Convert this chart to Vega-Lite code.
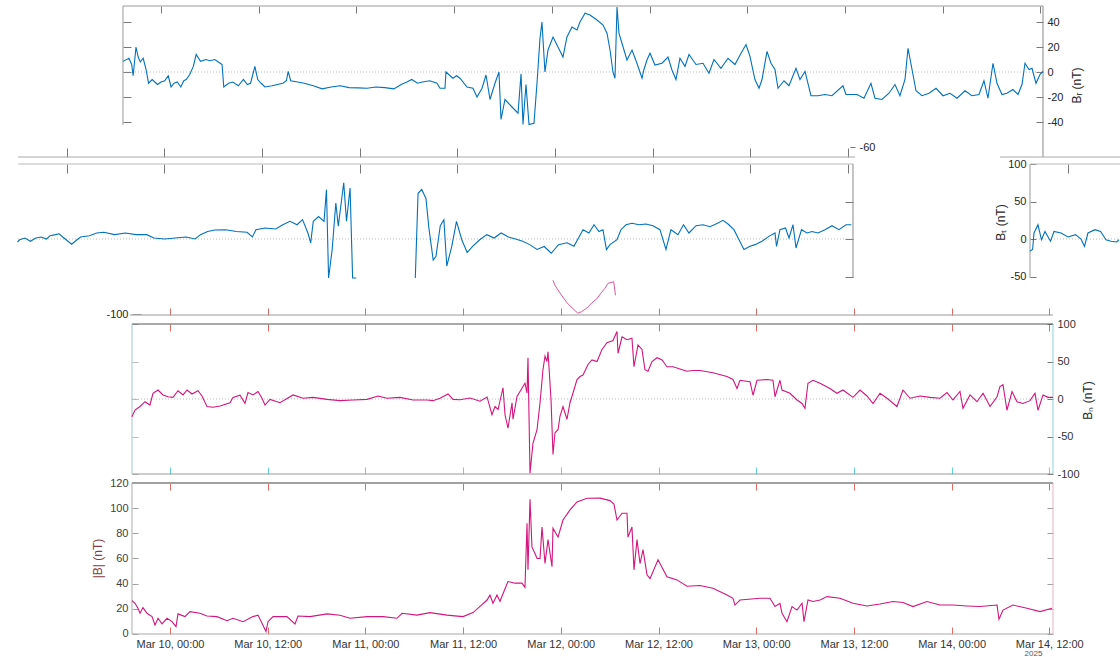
{
"$schema": "https://vega.github.io/schema/vega-lite/v6.json",
"width": 1120, "height": 657, "autosize": {"type": "none"}, "padding": 0,
"background": "white",
"config": {"view": {"stroke": null}, "axis": {"domain": false, "grid": false, "labelFont": "Liberation Sans", "labelFontSize": 11, "labelColor": "#262626", "titleFont": "Liberation Sans", "titleFontSize": 12, "titleFontWeight": "normal", "titleColor": "#262626", "tickColor": "#555555", "tickWidth": 0.8}},
"datasets": {
"br": [
{"t":-4.67,"v":8.5},{"t":-3.94,"v":11},{"t":-3.6,"v":6},{"t":-3.42,"v":-3},{"t":-3.07,"v":20},{"t":-2.8,"v":12},{"t":-2.54,"v":8},{"t":-2.19,"v":11},{"t":-1.83,"v":2},{"t":-1.53,"v":-9},{"t":-1.08,"v":-6},{"t":-0.43,"v":-10},{"t":0,"v":-8},{"t":0.45,"v":-7},{"t":0.89,"v":-3},{"t":1.24,"v":-12},{"t":1.6,"v":-9},{"t":1.99,"v":-8},{"t":2.43,"v":-12},{"t":2.8,"v":-7},{"t":3.09,"v":-6},{"t":3.53,"v":-2},{"t":3.97,"v":4.5},{"t":4.32,"v":14},{"t":4.85,"v":8.5},{"t":5.51,"v":10},{"t":6.0,"v":9},{"t":6.61,"v":10},{"t":7.27,"v":7},{"t":7.5,"v":6},{"t":7.71,"v":-12},{"t":8.3,"v":-9},{"t":8.81,"v":-8},{"t":9.5,"v":-11},{"t":10.12,"v":-6},{"t":10.6,"v":-10},{"t":11.0,"v":-9},{"t":11.53,"v":4.5},{"t":11.88,"v":-6},{"t":12.3,"v":-9},{"t":12.76,"v":-12},{"t":13.64,"v":-11},{"t":14.3,"v":-10},{"t":14.96,"v":-9},{"t":15.4,"v":-7},{"t":15.62,"v":0.5},{"t":15.93,"v":-7},{"t":16.8,"v":-8},{"t":17.6,"v":-9},{"t":18.7,"v":-11},{"t":19.8,"v":-13.5},{"t":20.9,"v":-12},{"t":22.0,"v":-11},{"t":23.1,"v":-12.5},{"t":24.2,"v":-12.7},{"t":25.3,"v":-13},{"t":26.4,"v":-12},{"t":27.5,"v":-12.5},{"t":28.6,"v":-13.5},{"t":29.5,"v":-10},{"t":30.2,"v":-8},{"t":30.8,"v":-6},{"t":31.5,"v":-9},{"t":32.1,"v":-8},{"t":33.0,"v":-7},{"t":33.9,"v":-9},{"t":34.27,"v":-13},{"t":34.88,"v":-13},{"t":35.0,"v":0},{"t":35.86,"v":-5},{"t":36.3,"v":-3},{"t":36.72,"v":-5},{"t":37.58,"v":-12},{"t":38.32,"v":-13},{"t":38.81,"v":-20},{"t":39.43,"v":-13},{"t":39.92,"v":-2.4},{"t":40.41,"v":-22},{"t":41.02,"v":-9},{"t":41.51,"v":0},{"t":41.76,"v":-38},{"t":42.25,"v":-22},{"t":43.11,"v":-28},{"t":43.85,"v":-33},{"t":44.22,"v":-1.5},{"t":44.46,"v":-42},{"t":44.83,"v":-10},{"t":45.2,"v":-42},{"t":45.81,"v":-41},{"t":46.18,"v":-9},{"t":46.55,"v":27},{"t":46.79,"v":40},{"t":47.16,"v":0},{"t":47.53,"v":17.6},{"t":48.15,"v":28},{"t":48.76,"v":20},{"t":49.37,"v":12},{"t":49.86,"v":28},{"t":50.48,"v":36},{"t":51.09,"v":33.6},{"t":51.46,"v":40},{"t":52.08,"v":47},{"t":52.69,"v":45.6},{"t":53.55,"v":41.6},{"t":54.29,"v":37.6},{"t":54.78,"v":31},{"t":55.15,"v":17.6},{"t":55.51,"v":0},{"t":55.76,"v":-5},{"t":56.01,"v":52},{"t":56.25,"v":31},{"t":56.62,"v":23},{"t":57.23,"v":9.6},{"t":57.85,"v":17.6},{"t":58.46,"v":7},{"t":59.08,"v":-5},{"t":59.3,"v":1.6},{"t":59.69,"v":9.6},{"t":60.06,"v":15},{"t":60.67,"v":5.6},{"t":61.53,"v":7},{"t":62.27,"v":12},{"t":62.76,"v":1.6},{"t":63.25,"v":-6},{"t":63.74,"v":11},{"t":64.36,"v":4.5},{"t":64.85,"v":14},{"t":65.71,"v":6},{"t":66.57,"v":7},{"t":67.3,"v":-1},{"t":67.92,"v":10},{"t":68.78,"v":3},{"t":69.64,"v":11},{"t":70.5,"v":6},{"t":71.24,"v":15},{"t":71.85,"v":22},{"t":72.34,"v":12.5},{"t":72.95,"v":-6},{"t":73.45,"v":-13},{"t":73.82,"v":-6},{"t":74.43,"v":16.5},{"t":74.92,"v":7},{"t":75.41,"v":2},{"t":75.78,"v":-13},{"t":76.52,"v":-7},{"t":77.13,"v":-11},{"t":77.99,"v":3},{"t":78.48,"v":-6},{"t":79.1,"v":0.5},{"t":79.83,"v":-19},{"t":80.69,"v":-19},{"t":81.55,"v":-18},{"t":82.41,"v":-19},{"t":83.76,"v":-11},{"t":84.13,"v":-18},{"t":85.48,"v":-18},{"t":86.34,"v":-21},{"t":87.2,"v":-9},{"t":87.69,"v":-21},{"t":88.55,"v":-22},{"t":89.41,"v":-17},{"t":90.15,"v":-10},{"t":90.76,"v":-19},{"t":91.38,"v":-6},{"t":91.75,"v":19},{"t":92.36,"v":-2},{"t":92.73,"v":-15},{"t":93.47,"v":-19},{"t":94.33,"v":-17},{"t":95.19,"v":-13},{"t":96.05,"v":-19},{"t":96.91,"v":-17},{"t":97.77,"v":-21},{"t":98.75,"v":-15},{"t":99.61,"v":-19},{"t":100.47,"v":-18},{"t":101.08,"v":-7},{"t":101.57,"v":-21},{"t":102.19,"v":7},{"t":102.68,"v":-9},{"t":103.29,"v":-18},{"t":103.9,"v":-17},{"t":104.64,"v":-14},{"t":105.26,"v":-18},{"t":105.75,"v":-10},{"t":106.12,"v":7},{"t":106.61,"v":2},{"t":106.98,"v":3},{"t":107.47,"v":-9},{"t":107.96,"v":-2},{"t":108.33,"v":0.5}
],
"bt": [
{"t":-4.67,"v":-16},{"t":-4.35,"v":-14},{"t":-4.18,"v":8},{"t":-3.69,"v":19},{"t":-3.26,"v":-1},{"t":-2.83,"v":10},{"t":-2.15,"v":-3},{"t":-1.72,"v":10},{"t":-0.86,"v":8},{"t":0,"v":2.7},{"t":0.92,"v":5.8},{"t":1.59,"v":0},{"t":2.02,"v":-9.8},{"t":2.45,"v":8},{"t":3.31,"v":12.4},{"t":4.0,"v":10},{"t":4.66,"v":-1},{"t":5.28,"v":-3},{"t":5.98,"v":-4},{"t":6.25,"v":-1},{"t":6.9,"v":1.3},{"t":7.57,"v":-3},{"t":8.23,"v":1.3},{"t":8.89,"v":2.7},{"t":9.54,"v":0},{"t":9.99,"v":4.4},{"t":10.65,"v":5.8},{"t":11.09,"v":7},{"t":11.53,"v":2.7},{"t":11.96,"v":-1},{"t":12.63,"v":-7},{"t":13.29,"v":-1},{"t":13.73,"v":2.7},{"t":14.82,"v":4.4},{"t":15.71,"v":8},{"t":16.58,"v":9},{"t":17.91,"v":5.8},{"t":19.22,"v":8},{"t":20.54,"v":5.8},{"t":21.86,"v":5.8},{"t":22.73,"v":1.3},{"t":24.06,"v":0},{"t":25.37,"v":1.3},{"t":26.7,"v":2.7},{"t":27.79,"v":0},{"t":28.46,"v":5.8},{"t":29.33,"v":10},{"t":30.21,"v":12},{"t":31.53,"v":12.4},{"t":32.85,"v":10},{"t":34.17,"v":9},{"t":34.83,"v":2.7},{"t":35.27,"v":12.4},{"t":36.38,"v":14.7},{"t":37.69,"v":13.3},{"t":38.57,"v":19},{"t":39.45,"v":23.6},{"t":40.32,"v":19},{"t":40.99,"v":25.8},{"t":41.65,"v":8},{"t":41.99,"v":-5.3},{"t":42.31,"v":23.6},{"t":42.96,"v":30},{"t":43.63,"v":23.6},{"t":43.93,"v":65.8},{"t":44.19,"v":-52},{"t":44.63,"v":-14},{"t":45.08,"v":48},{"t":45.38,"v":17},{"t":46.05,"v":75},{"t":46.39,"v":23.6},{"t":46.83,"v":68},{"t":47.14,"v":-52},{"t":47.58,"v":-52},{"t":54.84,"v":-52},{"t":55.18,"v":61},{"t":55.63,"v":66},{"t":56.15,"v":54},{"t":56.51,"v":14.7},{"t":57.04,"v":-28},{"t":57.38,"v":-23},{"t":57.91,"v":17.8},{"t":58.35,"v":25.6},{"t":58.71,"v":-36},{"t":59.32,"v":-9.8},{"t":59.9,"v":23.6},{"t":60.55,"v":-1},{"t":61.21,"v":-18},{"t":61.88,"v":-9.8},{"t":62.75,"v":-1},{"t":63.63,"v":5.8},{"t":64.51,"v":1.3},{"t":65.39,"v":8},{"t":66.27,"v":2.7},{"t":67.15,"v":0},{"t":68.03,"v":-3},{"t":68.9,"v":-7.5},{"t":69.79,"v":-14},{"t":70.67,"v":-10},{"t":71.54,"v":-19},{"t":72.43,"v":-7.5},{"t":73.47,"v":-5},{"t":74.33,"v":-9.8},{"t":75.44,"v":12.4},{"t":76.17,"v":8},{"t":76.79,"v":19},{"t":77.4,"v":10},{"t":77.89,"v":12.4},{"t":78.32,"v":-14},{"t":78.75,"v":-7.5},{"t":79.61,"v":-1},{"t":80.1,"v":12.4},{"t":80.72,"v":19},{"t":81.45,"v":21},{"t":82.31,"v":19},{"t":83.17,"v":20},{"t":84.03,"v":17.8},{"t":84.89,"v":12.4},{"t":85.63,"v":-14},{"t":86.24,"v":12.4},{"t":87.1,"v":5.8},{"t":87.78,"v":19},{"t":88.45,"v":8},{"t":89.32,"v":17.8},{"t":90.18,"v":19},{"t":91.04,"v":16.4},{"t":91.96,"v":21},{"t":92.63,"v":24.9},{"t":93.25,"v":20},{"t":93.98,"v":12.4},{"t":94.6,"v":-1},{"t":95.21,"v":-14},{"t":95.95,"v":-9.8},{"t":96.56,"v":-7.5},{"t":97.42,"v":-3},{"t":98.28,"v":3.5},{"t":99.02,"v":8},{"t":99.21,"v":-9.8},{"t":99.63,"v":12.4},{"t":100.31,"v":14.7},{"t":100.74,"v":1.3},{"t":101.23,"v":19},{"t":101.6,"v":-12},{"t":102.28,"v":12.4},{"t":102.95,"v":8},{"t":103.56,"v":10},{"t":104.3,"v":8},{"t":105.16,"v":12.4},{"t":106.02,"v":17.8},{"t":106.88,"v":12.4},{"t":107.74,"v":19},{"t":108.4,"v":19}
],
"btmc": [
{"t":47.04,"v":-55},{"t":47.3,"v":-62},{"t":47.9,"v":-72},{"t":48.76,"v":-85},{"t":49.4,"v":-92},{"t":50.11,"v":-99},{"t":50.54,"v":-97},{"t":51.2,"v":-92},{"t":51.83,"v":-85},{"t":52.4,"v":-80},{"t":52.94,"v":-72},{"t":53.4,"v":-66},{"t":53.8,"v":-59},{"t":54.5,"v":-57},{"t":54.72,"v":-75}
],
"bn": [
{"t":-4.67,"v":-23.7},{"t":-4.3,"v":-14.7},{"t":-3.68,"v":-10},{"t":-3.07,"v":-3.6},{"t":-2.46,"v":-8},{"t":-2.09,"v":7.6},{"t":-1.47,"v":12},{"t":-0.86,"v":5.4},{"t":-0.25,"v":3},{"t":0.37,"v":2.2},{"t":0.98,"v":11},{"t":1.6,"v":5.4},{"t":2.09,"v":12},{"t":2.7,"v":6.7},{"t":3.44,"v":11},{"t":3.93,"v":4},{"t":4.54,"v":-10},{"t":5.28,"v":-11},{"t":6.14,"v":-9.4},{"t":7.37,"v":-5},{"t":7.74,"v":2.2},{"t":8.6,"v":5},{"t":9.21,"v":-5.8},{"t":9.58,"v":8.5},{"t":10.19,"v":5.4},{"t":10.81,"v":10},{"t":11.3,"v":1},{"t":11.67,"v":-8},{"t":12.28,"v":-0.5},{"t":13.51,"v":-5},{"t":15.11,"v":5.4},{"t":16.34,"v":1},{"t":17.56,"v":2.2},{"t":19.28,"v":-0.5},{"t":20.88,"v":-2.2},{"t":22.48,"v":-1.3},{"t":24.2,"v":-0.5},{"t":25.55,"v":4},{"t":26.65,"v":1},{"t":28.25,"v":2.2},{"t":29.85,"v":-1.3},{"t":31.57,"v":-1.3},{"t":32.3,"v":-2.2},{"t":33.16,"v":1},{"t":34.15,"v":6.7},{"t":34.76,"v":-0.5},{"t":35.62,"v":-1},{"t":36.85,"v":1.3},{"t":38.08,"v":-3},{"t":38.94,"v":2.7},{"t":39.55,"v":-21},{"t":39.92,"v":-10},{"t":40.29,"v":-14},{"t":40.9,"v":15},{"t":41.15,"v":-21},{"t":41.51,"v":-39},{"t":42.01,"v":-5},{"t":42.13,"v":-27},{"t":42.62,"v":3.5},{"t":42.99,"v":10},{"t":43.6,"v":21},{"t":43.85,"v":8},{"t":43.97,"v":55},{"t":44.22,"v":-99},{"t":44.58,"v":-59},{"t":45.08,"v":-41},{"t":45.45,"v":-5},{"t":45.81,"v":39},{"t":46.06,"v":57},{"t":46.3,"v":50},{"t":46.43,"v":63},{"t":46.8,"v":-1},{"t":47.04,"v":-74},{"t":47.29,"v":-45},{"t":47.66,"v":-41},{"t":47.9,"v":-23},{"t":48.27,"v":-10},{"t":48.76,"v":-27},{"t":49.13,"v":-5},{"t":49.5,"v":8},{"t":49.99,"v":26},{"t":50.36,"v":30},{"t":50.73,"v":32},{"t":51.34,"v":46},{"t":51.83,"v":52},{"t":52.45,"v":50},{"t":53.06,"v":66},{"t":53.67,"v":75},{"t":54.41,"v":78},{"t":54.9,"v":90},{"t":55.03,"v":61},{"t":55.52,"v":83},{"t":56.13,"v":79},{"t":56.74,"v":81},{"t":56.99,"v":43},{"t":57.48,"v":72},{"t":57.97,"v":66},{"t":58.34,"v":39},{"t":58.71,"v":37},{"t":59.2,"v":50},{"t":59.82,"v":55},{"t":60.43,"v":52},{"t":61.04,"v":43},{"t":61.78,"v":43},{"t":62.64,"v":40},{"t":63.5,"v":37},{"t":64.24,"v":38},{"t":65.1,"v":38},{"t":66.69,"v":35},{"t":68.41,"v":30},{"t":69.15,"v":26},{"t":69.64,"v":14},{"t":70.01,"v":25},{"t":71.24,"v":23},{"t":71.61,"v":5},{"t":72.1,"v":25},{"t":73.33,"v":26},{"t":74.06,"v":25},{"t":74.31,"v":3},{"t":74.92,"v":25},{"t":75.17,"v":12},{"t":76.15,"v":7.6},{"t":77.01,"v":-1.3},{"t":77.63,"v":-6},{"t":77.99,"v":-12.5},{"t":78.36,"v":21},{"t":78.98,"v":25},{"t":79.84,"v":21},{"t":81.06,"v":14},{"t":81.92,"v":7.6},{"t":82.66,"v":12},{"t":83.89,"v":2.2},{"t":84.75,"v":12},{"t":85.61,"v":4},{"t":86.35,"v":-6},{"t":87.21,"v":7.6},{"t":88.07,"v":1},{"t":89.29,"v":-10},{"t":90.03,"v":12},{"t":90.89,"v":1},{"t":92.12,"v":4},{"t":93.35,"v":2.2},{"t":94.57,"v":1},{"t":95.43,"v":8.5},{"t":96.17,"v":-1.3},{"t":97.03,"v":10},{"t":97.4,"v":-12.5},{"t":98.26,"v":5.4},{"t":99.12,"v":-3.6},{"t":99.86,"v":7.6},{"t":100.72,"v":-10},{"t":101.58,"v":3},{"t":101.94,"v":16.5},{"t":102.31,"v":19},{"t":102.8,"v":-15},{"t":103.42,"v":10},{"t":104.03,"v":-3.6},{"t":104.77,"v":-6},{"t":105.63,"v":-2.2},{"t":106.24,"v":7.6},{"t":106.61,"v":-15},{"t":107.23,"v":5.4},{"t":107.84,"v":2.2},{"t":108.45,"v":2.2}
],
"bmag": [
{"t":-4.67,"v":26.5},{"t":-4.3,"v":24.4},{"t":-3.93,"v":20.4},{"t":-3.68,"v":16.5},{"t":-3.32,"v":21},{"t":-2.82,"v":16.5},{"t":-2.21,"v":13.8},{"t":-1.84,"v":7.2},{"t":-1.47,"v":12.5},{"t":-0.98,"v":8},{"t":-0.37,"v":12.5},{"t":0.25,"v":9.8},{"t":0.74,"v":5.8},{"t":0.98,"v":16},{"t":1.84,"v":13.8},{"t":2.46,"v":17.8},{"t":3.68,"v":16.5},{"t":4.54,"v":14.3},{"t":5.77,"v":13.8},{"t":7.0,"v":10.6},{"t":7.74,"v":12.5},{"t":8.97,"v":9.8},{"t":10.19,"v":13.8},{"t":10.81,"v":15},{"t":11.3,"v":8.5},{"t":11.79,"v":1.9},{"t":12.04,"v":9.8},{"t":12.65,"v":13.8},{"t":14.37,"v":13.8},{"t":15.35,"v":8},{"t":15.72,"v":14.3},{"t":17.2,"v":13.8},{"t":19.28,"v":16},{"t":20.88,"v":14.9},{"t":22.11,"v":12.5},{"t":24.2,"v":13.8},{"t":26.16,"v":13.8},{"t":27.88,"v":12.5},{"t":28.5,"v":16.5},{"t":30.34,"v":15},{"t":31.93,"v":17},{"t":34.02,"v":15},{"t":35.62,"v":14},{"t":35.99,"v":13.8},{"t":37.22,"v":17},{"t":38.08,"v":22},{"t":38.94,"v":27},{"t":39.3,"v":31},{"t":39.67,"v":24.4},{"t":40.16,"v":31},{"t":40.53,"v":26},{"t":41.15,"v":36},{"t":41.51,"v":41.7},{"t":42.37,"v":40.4},{"t":43.23,"v":40.4},{"t":43.6,"v":37},{"t":43.85,"v":88},{"t":43.97,"v":51},{"t":44.22,"v":107},{"t":44.46,"v":69},{"t":44.83,"v":64},{"t":45.08,"v":60},{"t":45.45,"v":60},{"t":45.69,"v":85},{"t":46.06,"v":56},{"t":46.43,"v":75},{"t":46.92,"v":53.5},{"t":47.04,"v":84},{"t":47.66,"v":77},{"t":48.27,"v":90.6},{"t":49.13,"v":98.6},{"t":49.99,"v":105},{"t":51.22,"v":107.9},{"t":52.81,"v":108},{"t":54.04,"v":106},{"t":54.53,"v":103.3},{"t":54.9,"v":90.6},{"t":55.52,"v":96},{"t":56.13,"v":96},{"t":56.25,"v":77},{"t":56.74,"v":85},{"t":56.99,"v":51},{"t":57.36,"v":75},{"t":57.73,"v":56},{"t":58.1,"v":67},{"t":58.59,"v":47},{"t":58.96,"v":44},{"t":59.94,"v":59},{"t":61.04,"v":45.5},{"t":62.27,"v":43},{"t":63.5,"v":38},{"t":65.1,"v":38.5},{"t":66.69,"v":36.4},{"t":68.41,"v":31},{"t":69.15,"v":28.4},{"t":69.39,"v":23},{"t":70.01,"v":27},{"t":72.47,"v":28.4},{"t":73.69,"v":28.4},{"t":74.31,"v":21.8},{"t":74.92,"v":24.4},{"t":75.17,"v":16.5},{"t":75.78,"v":9.8},{"t":76.4,"v":21.8},{"t":77.01,"v":19},{"t":77.63,"v":24.4},{"t":77.87,"v":9.8},{"t":78.36,"v":27},{"t":78.98,"v":25.8},{"t":79.84,"v":27},{"t":80.7,"v":29.7},{"t":82.29,"v":28.4},{"t":83.89,"v":24.4},{"t":85.61,"v":22.3},{"t":87.21,"v":23.9},{"t":88.8,"v":25.8},{"t":90.03,"v":25},{"t":91.26,"v":21.8},{"t":92.98,"v":25.8},{"t":94.57,"v":23},{"t":96.17,"v":23},{"t":97.89,"v":22.3},{"t":99.49,"v":21.8},{"t":101.58,"v":23},{"t":101.82,"v":11.7},{"t":102.31,"v":19},{"t":103.54,"v":23},{"t":105.26,"v":20.4},{"t":106.86,"v":17.8},{"t":108.33,"v":20.4}
]
},
"resolve": {"scale": {"x": "independent", "y": "independent"}},
"layer": [
{"data": {"values": [{}]}, "mark": {"type": "rule", "color": "#999999", "strokeWidth": 1},
 "encoding": {"x": {"datum": -4.67, "type": "quantitative", "scale": {"domain": [-19.775, 117.788], "nice": false, "zero": false}, "axis": {"orient": "top", "offset": -6, "values": [0,12,24,36,48,60,72,84,96,108], "tickSize": -7, "labels": false, "title": null}},
  "x2": {"datum": 108.33},
  "y": {"datum": 52.8, "type": "quantitative", "scale": {"domain": [-468, 57.6], "nice": false, "zero": false}, "axis": null}}},
{"data": {"values": [{}]}, "mark": {"type": "rule", "color": "#999999", "strokeWidth": 1},
 "encoding": {"x": {"datum": -4.67, "type": "quantitative", "scale": {"domain": [-19.775, 117.788], "nice": false, "zero": false}, "axis": null},
  "y": {"datum": 52.8, "type": "quantitative", "scale": {"domain": [-468, 57.6], "nice": false, "zero": false}, "axis": {"orient": "left", "offset": -123, "values": [-40,-20,0,20,40], "tickSize": -8, "labels": false, "title": null}},
  "y2": {"datum": -42.4}}},
{"data": {"values": [{}]}, "mark": {"type": "rule", "color": "#888888", "strokeWidth": 1},
 "encoding": {"x": {"datum": 108.33, "type": "quantitative", "scale": {"domain": [-19.775, 117.788], "nice": false, "zero": false}, "axis": null},
  "y": {"datum": 52.8, "type": "quantitative", "scale": {"domain": [-468, 57.6], "nice": false, "zero": false}, "axis": {"orient": "right", "offset": -77, "values": [-40,-20,0,20,40], "labelExpr": "'' + datum.value", "tickSize": -7, "labelPadding": 11, "title": "Bᵣ (nT)", "titleAngle": 270, "titleX": 33, "titleY": 85, "titleAlign": "center", "titleBaseline": "middle"}},
  "y2": {"datum": -68}}},
{"data": {"values": [{}]}, "mark": {"type": "rule", "color": "#aaaaaa", "strokeWidth": 0.8, "strokeDash": [1, 2]},
 "encoding": {"x": {"datum": -4.67, "type": "quantitative", "scale": {"domain": [-19.775, 117.788], "nice": false, "zero": false}, "axis": null},
  "x2": {"datum": 108.33},
  "y": {"datum": 0, "type": "quantitative", "scale": {"domain": [-468, 57.6], "nice": false, "zero": false}, "axis": null}}},
{"data": {"name": "br"}, "mark": {"type": "line", "color": "#0072BD", "strokeWidth": 1.1},
 "encoding": {"x": {"field": "t", "type": "quantitative", "scale": {"domain": [-19.775, 117.788], "nice": false, "zero": false}, "axis": null},
  "y": {"field": "v", "type": "quantitative", "scale": {"domain": [-468, 57.6], "nice": false, "zero": false}, "axis": null}}},

{"data": {"values": [{}]}, "mark": {"type": "rule", "color": "#aaaaaa", "strokeWidth": 1.2},
 "encoding": {"x": {"datum": 6.04, "type": "quantitative", "scale": {"domain": [3.832, 141.395], "nice": false, "zero": false}, "axis": {"orient": "top", "offset": -157, "values": [12,24,36,48,60,72,84,96,108], "tickSize": 9, "labels": false, "title": null}},
  "x2": {"datum": 108.85},
  "y": {"datum": -68, "type": "quantitative", "scale": {"domain": [-468, 57.6], "nice": false, "zero": false}, "axis": {"orient": "right", "offset": -265, "values": [-60], "labelExpr": "'' + datum.value", "tickSize": -5, "labelPadding": 9, "title": null}}}},
{"data": {"values": [{}]}, "mark": {"type": "rule", "color": "#bbbbbb", "strokeWidth": 1.2},
 "encoding": {"x": {"datum": 6.04, "type": "quantitative", "scale": {"domain": [3.832, 141.395], "nice": false, "zero": false}, "axis": {"orient": "top", "offset": -164, "values": [12,24,36,48,60,72,84,96,108], "tickSize": -9, "labels": false, "title": null}},
  "x2": {"datum": 108.6},
  "y": {"datum": 100, "type": "quantitative", "scale": {"domain": [-557.33, 318.67], "nice": false, "zero": false}, "axis": null}}},
{"data": {"values": [{}]}, "mark": {"type": "rule", "color": "#888888", "strokeWidth": 1},
 "encoding": {"x": {"datum": 108.6, "type": "quantitative", "scale": {"domain": [3.832, 141.395], "nice": false, "zero": false}, "axis": null},
  "y": {"datum": 100, "type": "quantitative", "scale": {"domain": [-557.33, 318.67], "nice": false, "zero": false}, "axis": {"orient": "right", "offset": -267, "values": [-50,0,50], "tickSize": -8, "labels": false, "title": null}},
  "y2": {"datum": -52}}},
{"data": {"values": [{}]}, "mark": {"type": "rule", "color": "#aaaaaa", "strokeWidth": 0.8, "strokeDash": [1, 2]},
 "encoding": {"x": {"datum": 6.04, "type": "quantitative", "scale": {"domain": [3.832, 141.395], "nice": false, "zero": false}, "axis": null},
  "x2": {"datum": 108.6},
  "y": {"datum": 0, "type": "quantitative", "scale": {"domain": [-557.33, 318.67], "nice": false, "zero": false}, "axis": null}}},
{"data": {"name": "bt"}, "transform": [{"filter": "datum.t >= 5.9 && datum.t <= 48"}], "mark": {"type": "line", "color": "#0072BD", "strokeWidth": 1.1},
 "encoding": {"x": {"field": "t", "type": "quantitative", "scale": {"domain": [3.832, 141.395], "nice": false, "zero": false}, "axis": null},
  "y": {"field": "v", "type": "quantitative", "scale": {"domain": [-557.33, 318.67], "nice": false, "zero": false}, "axis": null}}},
{"data": {"name": "bt"}, "transform": [{"filter": "datum.t >= 54"}], "mark": {"type": "line", "color": "#0072BD", "strokeWidth": 1.1},
 "encoding": {"x": {"field": "t", "type": "quantitative", "scale": {"domain": [3.832, 141.395], "nice": false, "zero": false}, "axis": null},
  "y": {"field": "v", "type": "quantitative", "scale": {"domain": [-557.33, 318.67], "nice": false, "zero": false}, "axis": null}}},

{"data": {"values": [{}]}, "mark": {"type": "rule", "color": "#999999", "strokeWidth": 1},
 "encoding": {"x": {"datum": -4.67, "type": "quantitative", "scale": {"domain": [-131.18, 6.384], "nice": false, "zero": false}, "axis": null},
  "y": {"datum": 100, "type": "quantitative", "scale": {"domain": [-557.33, 318.67], "nice": false, "zero": false}, "axis": {"orient": "left", "offset": -1030, "values": [-50,0,50,100], "labelExpr": "'' + datum.value", "tickSize": -6, "labelPadding": 10, "title": "Bₜ (nT)", "titleX": -30, "titleY": 222, "titleAlign": "center", "titleBaseline": "middle"}},
  "y2": {"datum": -52}}},
{"data": {"values": [{}]}, "mark": {"type": "rule", "color": "#bbbbbb", "strokeWidth": 1.2},
 "encoding": {"x": {"datum": -4.67, "type": "quantitative", "scale": {"domain": [-131.18, 6.384], "nice": false, "zero": false}, "axis": {"orient": "top", "offset": -164, "values": [0], "tickSize": -9, "labels": false, "title": null}},
  "x2": {"datum": 6.38},
  "y": {"datum": 100, "type": "quantitative", "scale": {"domain": [-557.33, 318.67], "nice": false, "zero": false}, "axis": null}}},
{"data": {"values": [{}]}, "mark": {"type": "rule", "color": "#aaaaaa", "strokeWidth": 1.2},
 "encoding": {"x": {"datum": -8.35, "type": "quantitative", "scale": {"domain": [-131.18, 6.384], "nice": false, "zero": false}, "axis": null},
  "x2": {"datum": 6.38},
  "y": {"datum": 109.33, "type": "quantitative", "scale": {"domain": [-557.33, 318.67], "nice": false, "zero": false}, "axis": null}}},
{"data": {"values": [{}]}, "mark": {"type": "rule", "color": "#aaaaaa", "strokeWidth": 0.8, "strokeDash": [1, 2]},
 "encoding": {"x": {"datum": -4.67, "type": "quantitative", "scale": {"domain": [-131.18, 6.384], "nice": false, "zero": false}, "axis": null},
  "x2": {"datum": 6.38},
  "y": {"datum": 0, "type": "quantitative", "scale": {"domain": [-557.33, 318.67], "nice": false, "zero": false}, "axis": null}}},
{"data": {"name": "bt"}, "transform": [{"filter": "datum.t <= 6.3"}], "mark": {"type": "line", "color": "#0072BD", "strokeWidth": 1.1},
 "encoding": {"x": {"field": "t", "type": "quantitative", "scale": {"domain": [-131.18, 6.384], "nice": false, "zero": false}, "axis": null},
  "y": {"field": "v", "type": "quantitative", "scale": {"domain": [-557.33, 318.67], "nice": false, "zero": false}, "axis": null}}},

{"data": {"values": [{}]}, "mark": {"type": "rule", "color": "#999999", "strokeWidth": 1},
 "encoding": {"x": {"datum": -4.91, "type": "quantitative", "scale": {"domain": [-20.88, 116.683], "nice": false, "zero": false}, "axis": {"orient": "bottom", "offset": -342, "values": [0,12,24,36,48,60,72,84,96,108], "tickSize": -7, "tickColor": "#e0443c", "labels": false, "title": null}},
  "x2": {"datum": 108.45},
  "y": {"datum": -101.33, "type": "quantitative", "scale": {"domain": [-557.33, 318.67], "nice": false, "zero": false}, "axis": {"orient": "left", "offset": -132, "values": [-100], "labelExpr": "'' + datum.value", "tickSize": -9, "labelPadding": 13, "tickColor": "#888888", "title": null}}}},
{"data": {"name": "btmc"}, "mark": {"type": "line", "color": "#e0559a", "strokeWidth": 1},
 "encoding": {"x": {"field": "t", "type": "quantitative", "scale": {"domain": [-20.88, 116.683], "nice": false, "zero": false}, "axis": null},
  "y": {"field": "v", "type": "quantitative", "scale": {"domain": [-557.33, 318.67], "nice": false, "zero": false}, "axis": null}}},

{"data": {"values": [{}]}, "mark": {"type": "rule", "color": "#555555", "strokeWidth": 1},
 "encoding": {"x": {"datum": -4.67, "type": "quantitative", "scale": {"domain": [-20.88, 116.683], "nice": false, "zero": false}, "axis": {"orient": "top", "offset": -324, "values": [0,12,24,36,48,60,72,84,96,108], "tickSize": -7, "tickColor": "#e0443c", "labels": false, "title": null}},
  "x2": {"datum": 108.45},
  "y": {"datum": 100, "type": "quantitative", "scale": {"domain": [-344, 532], "nice": false, "zero": false}, "axis": null}}},
{"data": {"values": [{}]}, "mark": {"type": "rule", "color": "#999999", "strokeWidth": 1},
 "encoding": {"x": {"datum": -4.67, "type": "quantitative", "scale": {"domain": [-20.88, 116.683], "nice": false, "zero": false}, "axis": {"orient": "bottom", "offset": -183, "values": [0,12,24,36,48,60,72,84,96,108], "tickSize": -7, "tickColor": "#3cc8d0", "labels": false, "title": null}},
  "x2": {"datum": 108.45},
  "y": {"datum": -100, "type": "quantitative", "scale": {"domain": [-344, 532], "nice": false, "zero": false}, "axis": null}}},
{"data": {"values": [{}]}, "mark": {"type": "rule", "color": "#9cc9cd", "strokeWidth": 1},
 "encoding": {"x": {"datum": -4.67, "type": "quantitative", "scale": {"domain": [-20.88, 116.683], "nice": false, "zero": false}, "axis": null},
  "y": {"datum": 100, "type": "quantitative", "scale": {"domain": [-344, 532], "nice": false, "zero": false}, "axis": {"orient": "left", "offset": -132, "values": [-100,-50,0,50,100], "tickSize": -6, "tickColor": "#aaaaaa", "labels": false, "title": null}},
  "y2": {"datum": -100}}},
{"data": {"values": [{}]}, "mark": {"type": "rule", "color": "#8fd0d6", "strokeWidth": 1},
 "encoding": {"x": {"datum": 108.45, "type": "quantitative", "scale": {"domain": [-20.88, 116.683], "nice": false, "zero": false}, "axis": null},
  "y": {"datum": 100, "type": "quantitative", "scale": {"domain": [-344, 532], "nice": false, "zero": false}, "axis": {"orient": "right", "offset": -67, "values": [-100,-50,0,50,100], "labelExpr": "'' + datum.value", "tickSize": -6, "labelPadding": 10, "labelColor": "#333333", "title": "Bₙ (nT)", "titleAngle": 270, "titleX": 34, "titleY": 400, "titleAlign": "center", "titleBaseline": "middle"}},
  "y2": {"datum": -100}}},
{"data": {"values": [{}]}, "mark": {"type": "rule", "color": "#aaaaaa", "strokeWidth": 0.8, "strokeDash": [1, 2]},
 "encoding": {"x": {"datum": -4.67, "type": "quantitative", "scale": {"domain": [-20.88, 116.683], "nice": false, "zero": false}, "axis": null},
  "x2": {"datum": 108.45},
  "y": {"datum": 0, "type": "quantitative", "scale": {"domain": [-344, 532], "nice": false, "zero": false}, "axis": null}}},
{"data": {"name": "bn"}, "mark": {"type": "line", "color": "#d4157e", "strokeWidth": 1.1},
 "encoding": {"x": {"field": "t", "type": "quantitative", "scale": {"domain": [-20.88, 116.683], "nice": false, "zero": false}, "axis": null},
  "y": {"field": "v", "type": "quantitative", "scale": {"domain": [-344, 532], "nice": false, "zero": false}, "axis": null}}},

{"data": {"values": [{}]}, "mark": {"type": "rule", "color": "#a0a0a0", "strokeWidth": 2.2},
 "encoding": {"x": {"datum": -4.67, "type": "quantitative", "scale": {"domain": [-20.88, 116.683], "nice": false, "zero": false}, "axis": {"orient": "top", "offset": -483, "values": [0,12,24,36,48,60,72,84,96,108], "tickSize": -7, "tickColor": "#e0443c", "labels": false, "title": null}},
  "x2": {"datum": 108.45},
  "y": {"datum": 120, "type": "quantitative", "scale": {"domain": [-18.28, 503.85], "nice": false, "zero": false}, "axis": null}}},
{"data": {"values": [{}]}, "mark": {"type": "rule", "color": "#aaaaaa", "strokeWidth": 1},
 "encoding": {"x": {"datum": -4.67, "type": "quantitative", "scale": {"domain": [-20.88, 116.683], "nice": false, "zero": false}, "axis": {"orient": "bottom", "offset": -23, "values": [0,12,24,36,48,60,72,84,96,108], "tickSize": -7, "tickColor": "#e0443c", "labelPadding": 11, "labelColor": "#333333", "labelExpr": "'Mar ' + (10 + floor(datum.value / 24)) + ', ' + (datum.value % 24 == 0 ? '00:00' : '12:00')", "title": "2025", "titleX": 1033, "titleY": 15, "titleBaseline": "top", "titleAlign": "center", "titleFontSize": 8, "titleColor": "#555555"}},
  "x2": {"datum": 108.45},
  "y": {"datum": 0, "type": "quantitative", "scale": {"domain": [-18.28, 503.85], "nice": false, "zero": false}, "axis": null}}},
{"data": {"values": [{}]}, "mark": {"type": "rule", "color": "#aaaaaa", "strokeWidth": 1},
 "encoding": {"x": {"datum": -4.67, "type": "quantitative", "scale": {"domain": [-20.88, 116.683], "nice": false, "zero": false}, "axis": null},
  "y": {"datum": 120, "type": "quantitative", "scale": {"domain": [-18.28, 503.85], "nice": false, "zero": false}, "axis": {"orient": "left", "offset": -132, "values": [0,20,40,60,80,100,120], "tickSize": -6, "tickColor": "#888888", "labelPadding": 10, "labelColor": "#404040", "title": "|B| (nT)", "titleColor": "#8a3b45", "titleX": -35, "titleY": 558, "titleAlign": "center", "titleBaseline": "middle"}},
  "y2": {"datum": 0}}},
{"data": {"values": [{}]}, "mark": {"type": "rule", "color": "#e8b4c4", "strokeWidth": 1},
 "encoding": {"x": {"datum": 108.45, "type": "quantitative", "scale": {"domain": [-20.88, 116.683], "nice": false, "zero": false}, "axis": null},
  "y": {"datum": 120, "type": "quantitative", "scale": {"domain": [-18.28, 503.85], "nice": false, "zero": false}, "axis": {"orient": "right", "offset": -67, "values": [0,20,40,60,80,100,120], "tickSize": -6, "tickColor": "#888888", "labels": false, "title": null}},
  "y2": {"datum": 0}}},
{"data": {"name": "bmag"}, "mark": {"type": "line", "color": "#d4157e", "strokeWidth": 1.1},
 "encoding": {"x": {"field": "t", "type": "quantitative", "scale": {"domain": [-20.88, 116.683], "nice": false, "zero": false}, "axis": null},
  "y": {"field": "v", "type": "quantitative", "scale": {"domain": [-18.28, 503.85], "nice": false, "zero": false}, "axis": null}}}
]
}
